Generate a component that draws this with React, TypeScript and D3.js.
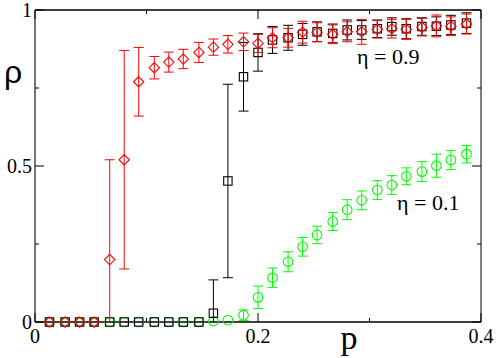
import React from "react";
import * as d3 from "d3";

// p values (x), shared by all three series
const pVals = [0.013, 0.027, 0.04, 0.053, 0.067, 0.08, 0.093, 0.107, 0.12, 0.133, 0.147, 0.16, 0.173, 0.187, 0.2,
  0.213, 0.227, 0.24, 0.253, 0.267, 0.28, 0.293, 0.307, 0.32, 0.333, 0.347, 0.36, 0.373, 0.387];

// eta = 0.9, red diamonds
const redRho = [0, 0, 0, 0, 0.2, 0.52, 0.77, 0.815, 0.833, 0.843, 0.864, 0.881, 0.89, 0.898, 0.893,
  0.911, 0.911, 0.929, 0.929, 0.922, 0.93, 0.93, 0.938, 0.94, 0.938, 0.945, 0.949, 0.948, 0.955];
const redErr = [0, 0, 0, 0, 0.32, 0.35, 0.11, 0.036, 0.032, 0.031, 0.032, 0.026, 0.028, 0.028, 0.029,
  0.032, 0.03, 0.035, 0.03, 0.03, 0.032, 0.04, 0.028, 0.03, 0.032, 0.028, 0.035, 0.03, 0.032];

// black squares
const blackRho = [0, 0, 0, 0, 0, 0, 0, 0, 0, 0, 0, 0.028, 0.452, 0.786, 0.864,
  0.904, 0.911, 0.922, 0.93, 0.925, 0.936, 0.936, 0.94, 0.947, 0.94, 0.947, 0.948, 0.952, 0.958];
const blackErr = [0, 0, 0, 0, 0, 0, 0, 0, 0, 0, 0, 0.107, 0.31, 0.11, 0.06,
  0.043, 0.04, 0.035, 0.032, 0.03, 0.032, 0.03, 0.028, 0.028, 0.032, 0.028, 0.03, 0.031, 0.033];

// eta = 0.1, green circles
const greenRho = [0, 0, 0, 0, 0, 0, 0, 0, 0, 0, 0, 0.003, 0.006, 0.022, 0.079,
  0.142, 0.193, 0.241, 0.279, 0.322, 0.36, 0.39, 0.423, 0.439, 0.467, 0.482, 0.501, 0.519, 0.538];
const greenErr = [0, 0, 0, 0, 0, 0, 0, 0, 0, 0, 0, 0, 0, 0.017, 0.036,
  0.031, 0.032, 0.03, 0.028, 0.029, 0.032, 0.03, 0.03, 0.03, 0.027, 0.032, 0.037, 0.03, 0.028];

const xMajor = [0, 0.2, 0.4];
const xMinor = [0.1, 0.3];
const yMajor = [0, 0.5, 1];
const yMinor = [0.25, 0.75];

const W = 498, H = 358;
const m = { l: 35, r: 17, t: 10, b: 36 };
const serif = "\"Liberation Serif\", \"DejaVu Serif\", \"Times New Roman\", serif";

export default function App() {
  const x = d3.scaleLinear().domain([0, 0.4]).range([m.l, W - m.r]);
  const y = d3.scaleLinear().domain([0, 1]).range([H - m.b, m.t]);
  const x0 = x(0), x1 = x(0.4), y0 = y(0), y1 = y(1);

  const series = [
    { rho: greenRho, err: greenErr, color: "#00ff00", shape: "circle" },
    { rho: blackRho, err: blackErr, color: "#000000", shape: "square" },
    { rho: redRho, err: redErr, color: "#ff0000", shape: "diamond" },
  ];

  const marker = (shape: string, cx: number, cy: number, color: string) => {
    if (shape === "circle") return <circle cx={cx} cy={cy} r={4.8} fill="none" stroke={color} strokeWidth={1.1} />;
    if (shape === "square") return <rect x={cx - 4.2} y={cy - 4.2} width={8.4} height={8.4} fill="none" stroke={color} strokeWidth={1.1} />;
    return <path d={`M${cx},${cy - 5.2}L${cx + 5.2},${cy}L${cx},${cy + 5.2}L${cx - 5.2},${cy}Z`} fill="none" stroke={color} strokeWidth={1.1} />;
  };

  const tx = { fontFamily: serif };

  return (
    <svg width={W} height={H} style={{ position: "fixed", left: 0, top: 0, background: "#fff" }}>
      <defs>
        <clipPath id="plot"><rect x={x0} y={y1} width={x1 - x0} height={y0 - y1} /></clipPath>
      </defs>
      {/* frame */}
      <line x1={x0} x2={x1} y1={y0} y2={y0} stroke="#000" strokeWidth={1.5} />
      <line x1={x0} x2={x1} y1={y1} y2={y1} stroke="#000" strokeWidth={1.5} />
      <line x1={x0} x2={x0} y1={y0} y2={y1} stroke="#777" strokeWidth={2} />
      <line x1={x1} x2={x1} y1={y0} y2={y1} stroke="#555" strokeWidth={1.5} />
      {/* ticks */}
      {xMajor.concat(xMinor).map((t) => {
        const len = xMajor.includes(t) ? 9 : 4;
        return (
          <g key={"xt" + t} stroke="#000">
            <line x1={x(t)} x2={x(t)} y1={y0} y2={y0 - len} />
            <line x1={x(t)} x2={x(t)} y1={y1} y2={y1 + len} />
          </g>
        );
      })}
      {yMajor.concat(yMinor).map((t) => {
        const len = yMajor.includes(t) ? 9 : 4;
        return (
          <g key={"yt" + t} stroke="#000">
            <line x1={x0} x2={x0 + len} y1={y(t)} y2={y(t)} />
            <line x1={x1} x2={x1 - len} y1={y(t)} y2={y(t)} />
          </g>
        );
      })}
      {series.map((s, si) => (
        <g key={si}>
          <g clipPath="url(#plot)">
            {pVals.map((p, i) => {
              const cx = x(p), e = s.err[i];
              if (e <= 0.005) return null;
              const lo = y(s.rho[i] - e), hi = y(s.rho[i] + e);
              return (
                <g key={i} stroke={s.color} strokeWidth={1}>
                  <line x1={cx} x2={cx} y1={lo} y2={hi} />
                  <line x1={cx - 5} x2={cx + 5} y1={lo} y2={lo} />
                  <line x1={cx - 5} x2={cx + 5} y1={hi} y2={hi} />
                </g>
              );
            })}
          </g>
          {pVals.map((p, i) => <g key={"m" + i}>{marker(s.shape, x(p), y(s.rho[i]), s.color)}</g>)}
        </g>
      ))}
      {/* tick labels */}
      {xMajor.map((t) => (
        <text key={"xl" + t} x={x(t)} y={y0 + 21} textAnchor="middle" style={tx} fontSize={20}>{t === 0 ? "0" : t.toFixed(1)}</text>
      ))}
      {yMajor.map((t) => (
        <text key={"yl" + t} x={x0 - 3} y={y(t) + 7} textAnchor="end" style={tx} fontSize={20}>{t === 0 || t === 1 ? String(t) : t.toFixed(1)}</text>
      ))}
      {/* axis titles */}
      <text x={349} y={349} textAnchor="middle" style={tx} fontSize={34}>p</text>
      <text x={4} y={83} style={{ fontFamily: "\"Liberation Sans\", Arial, sans-serif" }} fontSize={32}>ρ</text>
      {/* annotations */}
      <text x={357} y={64} style={tx} fontSize={22}>η = 0.9</text>
      <text x={397} y={210} style={tx} fontSize={22}>η = 0.1</text>
    </svg>
  );
}
